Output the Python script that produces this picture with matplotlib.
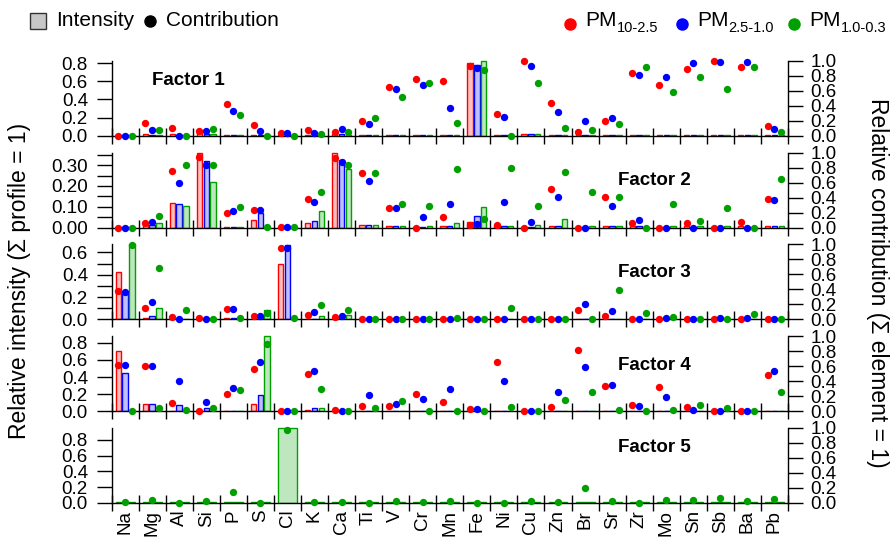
import numpy as np
import matplotlib.pyplot as plt
from matplotlib.patches import Rectangle
from matplotlib.colors import to_rgba

plt.rcParams['font.family'] = ['Liberation Sans', 'DejaVu Sans']

elements = ['Na', 'Mg', 'Al', 'Si', 'P', 'S', 'Cl', 'K', 'Ca', 'Ti', 'V', 'Cr', 'Mn',
            'Fe', 'Ni', 'Cu', 'Zn', 'Br', 'Sr', 'Zr', 'Mo', 'Sn', 'Sb', 'Ba', 'Pb']
size_names = ['10-2.5', '2.5-1.0', '1.0-0.3']
colors = ['#FF0000', '#0000FF', '#00A000']

# intensity rows: PM10-2.5, PM2.5-1.0, PM1.0-0.3
f1_intensity = [
    [.005, .02, .015, .025, .005, .012, .005, .012, .015, .005, .005, .005, .005, .80, .005, .022, .005, .005, .005, .005, .005, .005, .005, .005, .005],
    [.005, .01, .005, .02, .005, .005, .005, .005, .02, .005, .005, .005, .005, .78, .005, .02, .005, .005, .005, .005, .005, .005, .005, .005, .005],
    [.005, .01, .005, .02, .005, .005, .005, .005, .01, .005, .005, .005, .005, .826, .005, .015, .005, .005, .005, .005, .005, .005, .01, .005, .005],
]
f1_contrib = [
    [0, .17, .10, .06, .42, .14, .04, .075, .05, .20, .65, .76, .73, .925, .295, 1.0, .43, .053, .20, .84, .67, .885, .995, .91, .128],
    [0, .08, 0, .06, .33, .06, .04, .03, .09, .16, .625, .68, .37, .90, .247, .934, .32, .19, .24, .815, .78, .97, .98, .98, .09],
    [0, .07, 0, .09, .27, 0, 0, .02, .045, .23, .515, .70, .17, .88, 0, .70, .10, .075, .16, .91, .58, .78, .62, .91, .05],
]

f2_intensity = [
    [.003, .015, .12, .358, .004, .036, .002, .023, .361, .01, .005, .004, .005, .025, .012, .004, .005, .004, .005, .005, .004, .005, .004, .005, .005],
    [.003, .01, .114, .319, .004, .068, .002, .029, .324, .01, .005, .004, .005, .054, .005, .004, .005, .004, .005, .005, .004, .004, .004, .004, .005],
    [.003, .022, .103, .22, .004, .003, .002, .08, .282, .01, .005, .008, .022, .10, .005, .01, .042, .008, .005, .004, .008, .005, .006, .004, .008],
]
f2_contrib = [
    [0, .06, .76, .94, .20, .24, .013, .38, .93, .73, .26, 0, .14, .03, .04, 0, .52, 0, .41, .06, 0, .06, 0, .08, .38],
    [0, .076, .59, .83, .22, .24, .01, .335, .87, .625, .26, .14, .32, .05, .345, .067, .41, 0, .29, .094, 0, 0, 0, 0, .37],
    [0, .16, .84, .84, .28, .01, .01, .48, .83, .73, .32, .29, .78, .11, .80, .286, .74, .47, .41, 0, .32, .09, .26, 0, .65],
]

f3_intensity = [
    [.42, .015, .005, .005, .01, .005, .497, .005, .005, .003, .003, .003, .003, .003, .003, .003, .003, .003, .003, .003, .003, .003, .003, .003, .003],
    [.227, .03, .005, .005, .01, .008, .667, .005, .02, .003, .003, .003, .003, .003, .003, .003, .003, .003, .003, .003, .003, .003, .003, .003, .003],
    [.673, .10, .005, .005, .005, .079, .002, .03, .042, .003, .003, .003, .003, .003, .003, .003, .003, .003, .003, .003, .003, .003, .003, .003, .003],
]
f3_contrib = [
    [.373, .15, .035, .013, .133, .05, .947, .053, .027, 0, 0, 0, 0, 0, 0, 0, 0, .13, .05, .005, 0, 0, 0, 0, 0],
    [.36, .23, 0, 0, .133, .05, .955, .098, .05, 0, 0, 0, 0, 0, 0, 0, 0, .20, .11, .005, .013, 0, .013, .013, 0],
    [.99, .68, .13, 0, .013, .09, .018, .196, .13, 0, 0, .01, .015, 0, .15, 0, 0, 0, .39, .09, .03, 0, 0, .067, 0],
]

f4_intensity = [
    [.70, .083, .005, .005, .005, .083, .002, .01, .005, .004, .004, .004, .004, .004, .004, .004, .004, .004, .004, .004, .004, .004, .004, .004, .004],
    [.448, .083, .067, .04, .005, .194, .002, .04, .005, .004, .004, .004, .004, .004, .004, .004, .004, .004, .004, .004, .004, .004, .004, .004, .004],
    [.002, .005, .005, .005, .005, .88, .002, .04, .005, .004, .004, .004, .004, .004, .004, .004, .004, .004, .004, .004, .004, .004, .004, .004, .004],
]
f4_contrib = [
    [.61, .60, .105, 0, .23, .56, 0, .49, .018, .066, .07, .23, .12, .026, .65, 0, .048, .81, .335, .08, .32, .057, 0, 0, .48],
    [.62, .60, .40, .12, .31, .65, 0, .53, 0, .21, .10, .16, .30, .026, .40, 0, .26, .59, .35, .066, .19, .01, 0, 0, .53],
    [0, .035, .02, .044, .28, .90, 0, .29, 0, .035, .13, 0, 0, 0, .048, 0, .15, .25, .013, 0, .018, .08, .044, 0, .25],
]

# factor 5 only has the PM1.0-0.3 fraction
f5_intensity = [
    [.008, .008, .008, .008, .008, .008, .953, .008, .008, .008, .008, .008, .008, .008, .008, .008, .008, .008, .008, .008, .008, .008, .008, .008, .008],
]
f5_contrib = [
    [.013, .04, 0, .027, .148, 0, .977, .013, .013, 0, .027, .01, .03, 0, 0, .02, .013, .197, .027, 0, .045, .04, .067, .02, .05],
]

factors = [
    ('Factor 1', f1_intensity, f1_contrib),
    ('Factor 2', f2_intensity, f2_contrib),
    ('Factor 3', f3_intensity, f3_contrib),
    ('Factor 4', f4_intensity, f4_contrib),
    ('Factor 5', f5_intensity, f5_contrib),
]

# left axis ticks: (tick step, label every n-th tick, format)
left_ticks = [(0.2, 1, '%.1f'), (0.05, 2, '%.2f'), (0.1, 2, '%.1f'), (0.2, 1, '%.1f'), (0.2, 1, '%.1f')]
label_pos = [(0.113, 0.714), (0.803, 0.60), (0.803, 0.60), (0.803, 0.586), (0.803, 0.714)]

W, H = 892, 539
fig = plt.figure(figsize=(W / 100, H / 100), dpi=100)

x_left, x_right = 111.5, 788.0
base0, step, ph = 135.7, 91.8, 78.0
fs = 13.5
x = np.arange(len(elements))

for i, (name, inten, contrib) in enumerate(factors):
    base = base0 + step * i
    ax = fig.add_axes([x_left / W, 1 - base / H, (x_right - x_left) / W, ph / H])
    ax2 = ax.twinx()

    n = len(inten)
    if n == 3:
        offs, bw, cols = [-0.25, 0, 0.25], 0.2, colors
    else:
        offs, bw, cols = [0], 0.7, colors[2:]

    for vals, off, c in zip(inten, offs, cols):
        ax.bar(x + off, vals, width=bw, facecolor=to_rgba(c, 0.25), edgecolor=c, linewidth=1.0)
    for vals, off, c in zip(contrib, offs, cols):
        ax2.scatter(x + off, vals, s=28, color=c, linewidths=0, clip_on=False, zorder=5)

    vmax = max(max(v) for v in inten)
    ax.set_xlim(-0.5, len(elements) - 0.5)
    ax.set_ylim(0, vmax * 1.04)
    ax2.set_ylim(0, 1.04)

    tstep, every, fmt = left_ticks[i]
    ticks = np.arange(0, vmax + 1e-9, tstep)
    ax.set_yticks(ticks)
    ax.set_yticklabels([fmt % t if k % every == 0 else '' for k, t in enumerate(ticks)])
    ax2.set_yticks(np.arange(0, 1.01, 0.2))
    ax2.set_yticklabels(['%.1f' % t for t in np.arange(0, 1.01, 0.2)])

    for s in ['top', 'right']:
        ax.spines[s].set_visible(False)
    for s in ['top', 'left', 'bottom']:
        ax2.spines[s].set_visible(False)
    ax.spines['left'].set_bounds(0, vmax)
    ax2.spines['right'].set_bounds(0, 1)
    for sp in [ax.spines['left'], ax.spines['bottom'], ax2.spines['right']]:
        sp.set_linewidth(1.0)

    ax.tick_params(axis='y', direction='out', length=11, width=1.0, pad=6, labelsize=fs)
    ax2.tick_params(axis='y', direction='out', length=11, width=1.0, pad=5, labelsize=fs)

    ax.set_xticks(np.arange(-0.5, len(elements), 1))
    ax.tick_params(axis='x', which='major', direction='inout', length=12, width=1.0, labelbottom=False)
    if i == len(factors) - 1:
        ax.set_xticks(x, minor=True)
        ax.set_xticklabels(elements, minor=True, rotation=90, fontsize=fs)
        ax.tick_params(axis='x', which='minor', length=0, pad=5)

    ax.text(label_pos[i][0], label_pos[i][1], name, transform=ax.transAxes,
            ha='center', va='center', fontsize=13.5, fontweight='bold')

fig.text(20 / W, 1 - 281 / H, 'Relative intensity (\u03a3 profile = 1)', rotation=90,
         ha='center', va='center', fontsize=16.5)
fig.text(877 / W, 1 - 283 / H, 'Relative contribution (\u03a3 element = 1)', rotation=270,
         ha='center', va='center', fontsize=16.5)

# legend drawn by hand
def px(xp, yp):
    return xp / W, 1 - yp / H

lfs = 15
fig.patches.append(Rectangle(px(30, 29), 16 / W, 16 / H, transform=fig.transFigure,
                             facecolor='#c8c8c8', edgecolor='#333333', linewidth=1.0))
fig.text(*px(56, 21), 'Intensity', ha='left', va='center', fontsize=lfs)
fig.add_artist(plt.Line2D([px(150, 21)[0]], [px(150, 21)[1]], marker='o', color='black',
                          markersize=8, transform=fig.transFigure, linestyle='none'))
fig.text(*px(166, 21), 'Contribution', ha='left', va='center', fontsize=lfs)

renderer = fig.canvas.get_renderer()
leg_x = [570, 682, 794]
for lx, c, sn in zip(leg_x, colors, size_names):
    fig.add_artist(plt.Line2D([px(lx, 24)[0]], [px(lx, 24)[1]], marker='o', color=c,
                              markersize=8, transform=fig.transFigure, linestyle='none'))
    t = fig.text(*px(lx + 15, 21), 'PM', ha='left', va='center', fontsize=lfs)
    bb = t.get_window_extent(renderer)
    fig.text(bb.x1 / W, bb.y0 / H - 4 / H, sn, ha='left', va='bottom', fontsize=10.5)

fig.savefig('out.png', dpi=100)
